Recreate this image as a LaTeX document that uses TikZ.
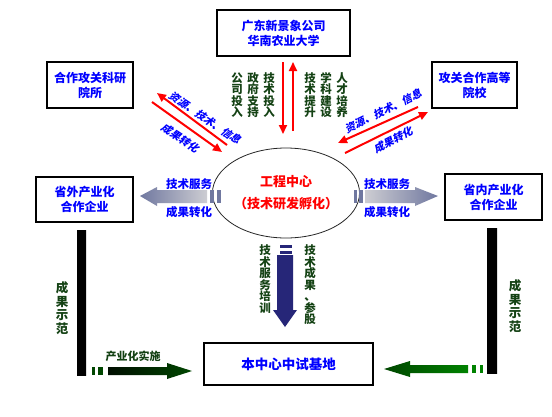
\documentclass[tikz,border=0pt]{standalone}
\usepackage{fontspec}
\setmainfont{Noto Sans CJK SC}
\newfontfamily\slantfont[FakeSlant=0.22]{Noto Sans CJK SC}
\usepackage{xcolor}
\definecolor{boxBlue}{RGB}{0, 0, 255}
\definecolor{hubRed}{RGB}{255, 0, 0}
\definecolor{labelGreen}{RGB}{20, 66, 20}
\definecolor{slateGray}{RGB}{112, 120, 160}
\definecolor{silverGray}{RGB}{205, 205, 210}
\definecolor{navyDeep}{RGB}{38, 38, 120}
\definecolor{navyLight}{RGB}{80, 80, 170}
\definecolor{greenMid}{RGB}{0, 130, 0}
\definecolor{greenDeep}{RGB}{0, 70, 0}
\usetikzlibrary{
    shapes.geometric,
    arrows.meta,
    positioning
}

\begin{document}
\begin{tikzpicture}[
    x=1pt, y=-1pt,
    boxNode/.style={
        rectangle, draw=black, line width=1.3pt,
        fill=white, text=boxBlue,
        align=center, font=\fontsize{12}{15}\selectfont\bfseries,
        inner sep=2pt, minimum height=46pt
    },
    hubNode/.style={
        ellipse, draw=black!85, line width=0.8pt,
        fill=white, text=hubRed,
        align=center, font=\fontsize{13}{22}\selectfont\bfseries,
        inner sep=0pt, minimum width=116pt, minimum height=90pt
    },
    vertLabel/.style={
        align=center, text=labelGreen, inner sep=0pt,
        font=\fontsize{11.5}{11.5}\selectfont\bfseries
    },
    sideLabel/.style={
        text=boxBlue, inner sep=0pt,
        font=\fontsize{11.5}{12}\selectfont\bfseries
    },
    slantLabel/.style={
        text=boxBlue, inner sep=0pt,
        font=\fontsize{10.5}{12}\slantfont\bfseries
    },
    redArrow/.style={
        -{Triangle[length=9pt, width=8pt]}, line width=2pt, draw=hubRed
    }
]
    \useasboundingbox (0,0) rectangle (552,416);
    \fill[white] (0,0) rectangle (552,416);

    % Central hub
    \node[hubNode] (hub) at (286,193) {工程中心\\（技术研发孵化）};

    % Partner boxes
    \node[boxNode, minimum width=133pt] (sponsor) at (283.5,33) {广东新景象公司\\华南农业大学};
    \node[boxNode, minimum width=86pt] (institute) at (90,85) {合作攻关科研\\院所};
    \node[boxNode, minimum width=85pt] (college) at (474.5,85) {攻关合作高等\\院校};
    \node[boxNode, minimum width=97pt, minimum height=45pt] (outerFirm) at (84.5,199.5) {省外产业化\\合作企业};
    \node[boxNode, minimum width=97pt] (innerFirm) at (493.5,197) {省内产业化\\合作企业};
    \node[boxNode, minimum width=169pt, minimum height=42pt, font=\fontsize{13.5}{15}\selectfont\bfseries] (pilotBase) at (288.5,364) {本中心中试基地};

    % Top: sponsor <-> hub
    \coordinate (downTop) at (283,62);
    \coordinate (downEnd) at (283,134);
    \coordinate (upStart) at (293,131);
    \coordinate (upTop) at (293,62);
    \draw[redArrow] (downTop) -- (downEnd);
    \draw[redArrow] (upStart) -- (upTop);

    \node[vertLabel] (invCompany) at (237,95) {公\\司\\投\\入};
    \node[vertLabel] (invGov) at (253,95) {政\\府\\支\\持};
    \node[vertLabel] (invTech) at (269,95) {技\\术\\投\\入};
    \node[vertLabel] (gainTech) at (310,95) {技\\术\\提\\升};
    \node[vertLabel] (gainSubject) at (326,95) {学\\科\\建\\设};
    \node[vertLabel] (gainTalent) at (342,95) {人\\才\\培\\养};

    % Upper left: institute <-> hub
    \coordinate (instIn) at (227,145);
    \coordinate (instHead) at (157,93);
    \coordinate (instOut) at (152,102);
    \coordinate (instBack) at (222,152);
    \draw[redArrow] (instIn) -- (instHead);
    \draw[redArrow] (instOut) -- (instBack);
    \node[slantLabel, rotate=-34] (instRes) at (205,118) {资源、技术、信息};
    \node[slantLabel, rotate=-33] (instGain) at (180,138) {成果转化};

    % Upper right: college <-> hub
    \coordinate (colIn) at (418,107);
    \coordinate (colHead) at (338,143);
    \coordinate (colOut) at (345,153);
    \coordinate (colBack) at (428,112);
    \draw[redArrow] (colIn) -- (colHead);
    \draw[redArrow] (colOut) -- (colBack);
    \node[slantLabel, rotate=26] (colRes) at (383,111) {资源、技术、信息};
    \node[slantLabel, rotate=27] (colGain) at (393,140) {成果转化};

    % Left: hub -> outer firms
    \shade[left color=slateGray, right color=silverGray]
        (140,196) -- (157,187) -- (157,190) -- (207,190) -- (207,203) -- (157,203) -- (157,206) -- cycle;
    \fill[slateGray] (210,190) rectangle (214,203);
    \fill[slateGray] (217,190) rectangle (221,203);
    \node[sideLabel] (outerSvc) at (189,184) {技术服务};
    \node[sideLabel] (outerGain) at (189,212) {成果转化};

    % Right: hub -> inner firms
    \shade[left color=silverGray, right color=slateGray]
        (365,190) -- (415,190) -- (415,187) -- (438,196) -- (415,206) -- (415,203) -- (365,203) -- cycle;
    \fill[slateGray] (354,190) rectangle (357,203);
    \fill[slateGray] (359,190) rectangle (363,203);
    \node[sideLabel] (innerSvc) at (387,184) {技术服务};
    \node[sideLabel] (innerGain) at (387,212) {成果转化};

    % Bottom: hub -> pilot base
    \fill[navyDeep] (280,245) rectangle (292,247.5);
    \fill[navyDeep] (280,251) rectangle (292,253.5);
    \shade[left color=navyDeep, middle color=navyLight, right color=navyDeep]
        (277,255) -- (293,255) -- (293,310) -- (297,310) -- (285,327) -- (273,310) -- (277,310) -- cycle;
    \node[vertLabel] (svcTrain) at (265,279) {技\\术\\服\\务\\培\\训};
    \node[vertLabel] (resultShare) at (310,285) {技\\术\\成\\果\\、\\参\\股};

    % Demonstration bars
    \shade[top color=black, middle color=greenMid, bottom color=black] (77,230) rectangle (86,375);
    \shade[top color=black, middle color=greenMid, bottom color=black] (487,228) rectangle (497,373);
    \node[vertLabel, font=\fontsize{12.5}{13.5}\selectfont\bfseries] (demoLeft) at (62,308) {成\\果\\示\\范};
    \node[vertLabel, font=\fontsize{12.5}{13.5}\selectfont\bfseries] (demoRight) at (515,306) {成\\果\\示\\范};

    % Industrial arrows into the pilot base
    \fill[greenDeep] (92,367) rectangle (95,375);
    \fill[greenDeep] (98,367) rectangle (103,375);
    \shade[left color=black!80!greenDeep, middle color=greenMid, right color=greenDeep]
        (108,367) -- (167,367) -- (167,363) -- (192,371) -- (167,379) -- (167,375) -- (108,375) -- cycle;
    \node[vertLabel, font=\fontsize{11}{12}\selectfont\bfseries] (induImpl) at (133,356) {产业化实施};

    \shade[left color=greenDeep, right color=greenMid]
        (384,369) -- (410,361) -- (410,365) -- (468,365) -- (468,373) -- (410,373) -- (410,377) -- cycle;
    \fill[greenMid] (472,365) rectangle (476,373);
    \fill[greenMid] (480,365) rectangle (483,373);

\end{tikzpicture}
\end{document}
